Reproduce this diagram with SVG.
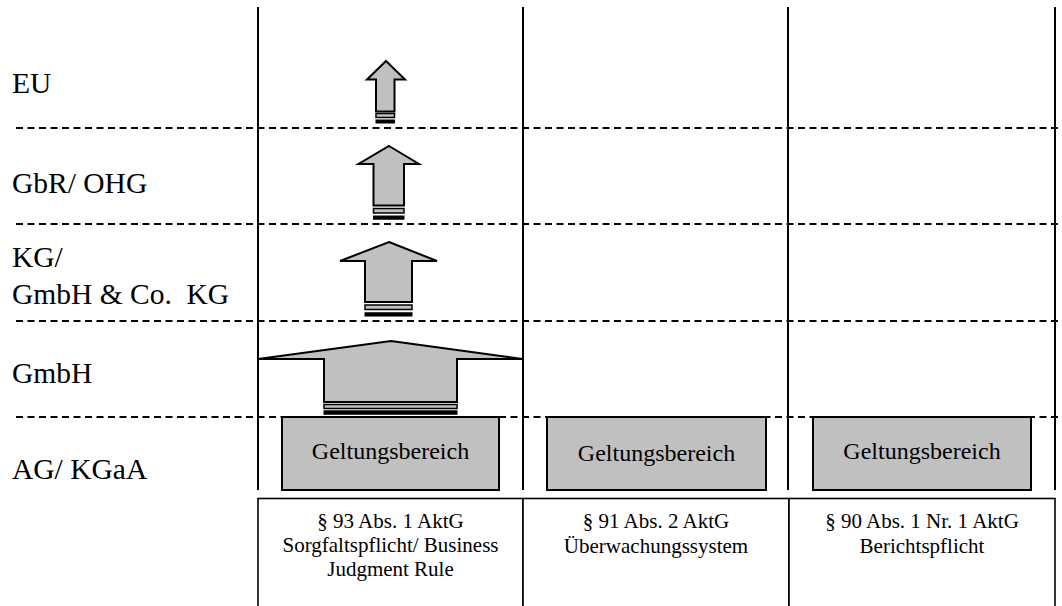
<svg xmlns="http://www.w3.org/2000/svg" width="1062" height="606" viewBox="0 0 1062 606">
  <style>
    .lbl { font-family: "Liberation Serif", "Times New Roman", serif; font-size: 29.5px; fill: #000; white-space: pre; }
    .gb { font-family: "Liberation Serif", "Times New Roman", serif; font-size: 24px; fill: #000; text-anchor: middle; }
    .ref { font-family: "Liberation Serif", "Times New Roman", serif; font-size: 21px; fill: #000; text-anchor: middle; }
    .vline { stroke: #000; stroke-width: 2; }
    .dash { stroke: #000; stroke-width: 1.8; stroke-dasharray: 7 4.5; }
    .box { fill: #c0c0c0; stroke: #000; stroke-width: 2; }
    .arrow { fill: #c0c0c0; stroke: #000; stroke-width: 2; stroke-linejoin: miter; }
    .stripe { fill: #c0c0c0; stroke: #000; stroke-width: 1.5; }
    .stripe2 { fill: #000; stroke: #000; stroke-width: 1; }
    .frame { fill: #fff; stroke: #000; stroke-width: 1.6; }
  </style>

  <rect width="1062" height="606" fill="#fff"/>

  <!-- grid: column rules and row separators -->
  <g id="grid">
    <line class="vline" x1="258" y1="7" x2="258" y2="490"/>
    <line class="vline" x1="523" y1="7" x2="523" y2="490"/>
    <line class="vline" x1="788" y1="7" x2="788" y2="490"/>
    <line class="vline" x1="1055" y1="7" x2="1055" y2="490"/>
    <line class="dash" x1="16" y1="128" x2="1062" y2="128"/>
    <line class="dash" x1="16" y1="224" x2="1062" y2="224"/>
    <line class="dash" x1="16" y1="321" x2="1062" y2="321"/>
    <line class="dash" x1="16" y1="417" x2="1062" y2="417"/>
  </g>

  <!-- row labels -->
  <g id="row-labels">
    <text class="lbl" x="12" y="93">EU</text>
    <text class="lbl" x="12" y="193">GbR/ OHG</text>
    <text class="lbl" x="12" y="267">KG/</text>
    <text class="lbl" x="12" y="304" xml:space="preserve">GmbH &amp; Co.  KG</text>
    <text class="lbl" x="12" y="383">GmbH</text>
    <text class="lbl" x="12" y="479">AG/ KGaA</text>
  </g>

  <!-- Geltungsbereich boxes -->
  <g id="gb1">
    <rect class="box" x="282" y="417" width="217" height="73"/>
    <text class="gb" x="390.5" y="459">Geltungsbereich</text>
  </g>
  <g id="gb2">
    <rect class="box" x="547" y="417" width="219" height="73"/>
    <text class="gb" x="656.5" y="460.5">Geltungsbereich</text>
  </g>
  <g id="gb3">
    <rect class="box" x="813" y="417" width="218" height="73"/>
    <text class="gb" x="922" y="459">Geltungsbereich</text>
  </g>

  <!-- striped arrows showing extension of scope -->
  <g id="connectors">
    <g id="arrow-gmbh">
      <polygon class="arrow" points="391,341 523,359 457,359 457,402 324,402 324,359 258,359"/>
      <rect class="stripe" x="324" y="404.5" width="133" height="4"/>
      <rect class="stripe2" x="324" y="410.8" width="133" height="3.4"/>
    </g>
    <g id="arrow-kg">
      <polygon class="arrow" points="389,242 437,261 412,261 412,302 365,302 365,261 340,261"/>
      <rect class="stripe" x="365" y="305" width="47" height="4.5"/>
      <rect class="stripe2" x="365" y="312.8" width="47" height="3.2"/>
    </g>
    <g id="arrow-gbr">
      <polygon class="arrow" points="389,146 419,164 404,164 404,205.5 373.5,205.5 373.5,164 358.5,164"/>
      <rect class="stripe" x="373.5" y="208.5" width="30.5" height="4.5"/>
      <rect class="stripe2" x="373.5" y="216" width="30.5" height="3.2"/>
    </g>
    <g id="arrow-eu">
      <polygon class="arrow" points="386,61 405,79.5 394.5,79.5 394.5,111.5 376,111.5 376,79.5 367,79.5"/>
      <rect class="stripe" x="376" y="113.5" width="18.5" height="4"/>
      <rect class="stripe2" x="376" y="120" width="18.5" height="3"/>
    </g>
  </g>

  <!-- statutory references -->
  <g id="ref1">
    <rect class="frame" x="258" y="498.5" width="265" height="120"/>
    <text class="ref" x="390.5" y="528">§ 93 Abs. 1 AktG</text>
    <text class="ref" x="390.5" y="552">Sorgfaltspflicht/ Business</text>
    <text class="ref" x="390.5" y="575.5">Judgment Rule</text>
  </g>
  <g id="ref2">
    <rect class="frame" x="523" y="498.5" width="266" height="120"/>
    <text class="ref" x="656" y="528">§ 91 Abs. 2 AktG</text>
    <text class="ref" x="656" y="552.5">Überwachungssystem</text>
  </g>
  <g id="ref3">
    <rect class="frame" x="789" y="498.5" width="266" height="120"/>
    <text class="ref" x="922" y="528">§ 90 Abs. 1 Nr. 1 AktG</text>
    <text class="ref" x="922" y="552.5">Berichtspflicht</text>
  </g>
</svg>
